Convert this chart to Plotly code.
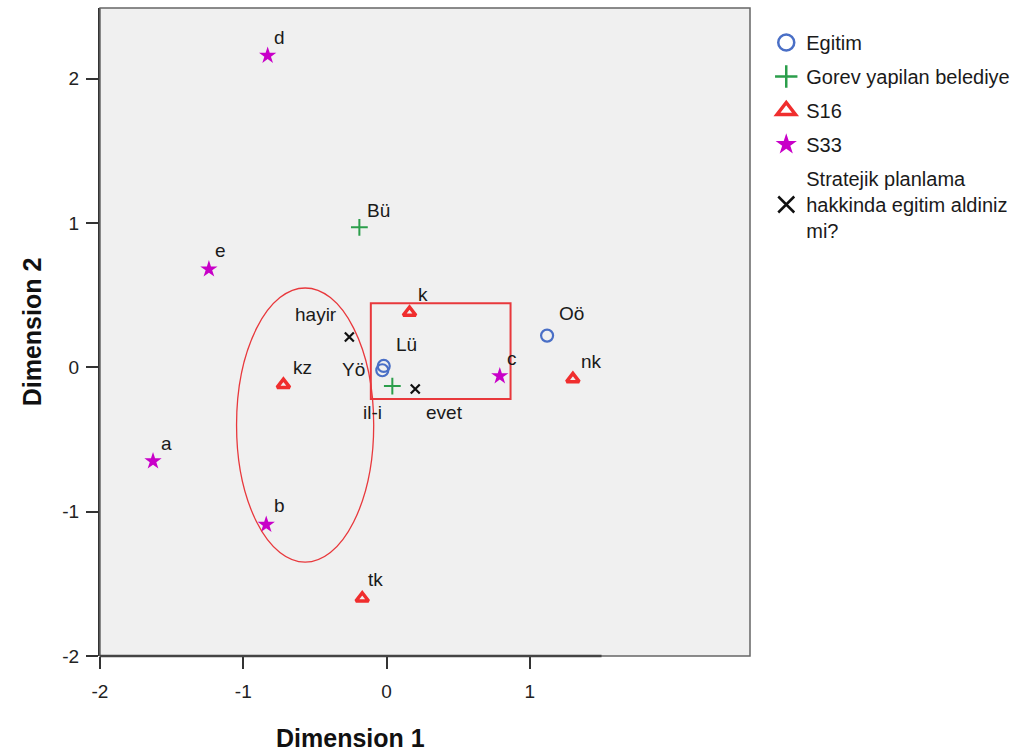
import plotly.graph_objects as go

# Category coordinates per variable (Dimension 1, Dimension 2)
egitim_labels = ["Oö", "Lü", "Yö"]
egitim_x = [1.12, -0.02, -0.03]
egitim_y = [0.22, 0.01, -0.02]

gorev_labels = ["Bü", "il-i"]
gorev_x = [-0.19, 0.04]
gorev_y = [0.97, -0.13]

s16_labels = ["k", "kz", "nk", "tk"]
s16_x = [0.16, -0.72, 1.30, -0.17]
s16_y = [0.38, -0.12, -0.08, -1.60]

s33_labels = ["d", "e", "a", "b", "c"]
s33_x = [-0.83, -1.24, -1.63, -0.84, 0.79]
s33_y = [2.16, 0.68, -0.65, -1.09, -0.06]

strat_labels = ["hayir", "evet"]
strat_x = [-0.26, 0.20]
strat_y = [0.21, -0.15]

x_ticks = [-2, -1, 0, 1]
y_ticks = [-2, -1, 0, 1, 2]

# label offsets in pixels (dx right, dy up) relative to the point
label_shift = {
    "Oö": (24, 22), "Lü": (23, 21), "Yö": (-29, 1),
    "Bü": (19, 17), "il-i": (-20, -26),
    "k": (13, 18), "kz": (19, 17), "nk": (19, 17), "tk": (13, 19),
    "d": (12, 18), "e": (12, 19), "a": (13, 18), "b": (13, 19), "c": (12, 18),
    "hayir": (-33, 23), "evet": (29, -23),
}

series = [
    dict(name="Egitim", x=egitim_x, y=egitim_y, labels=egitim_labels,
         symbol="circle-open", color="#4A6FC6", size=12, lw=2.2, lw_leg=2.5),
    dict(name="Gorev yapilan belediye", x=gorev_x, y=gorev_y, labels=gorev_labels,
         symbol="cross-thin-open", color="#2B9E4B", size=12, lw=2, lw_leg=2.5),
    dict(name="S16", x=s16_x, y=s16_y, labels=s16_labels,
         symbol="triangle-up-open", color="#F02E2E", size=11, lw=3.5, lw_leg=3.5),
    dict(name="S33", x=s33_x, y=s33_y, labels=s33_labels,
         symbol="star", color="#C800C8", size=13, lw=0, lw_leg=0),
    dict(name="Stratejik planlama<br>hakkinda egitim aldiniz<br>mi?", x=strat_x, y=strat_y,
         labels=strat_labels, symbol="x-thin-open", color="#111111", size=9, lw=2.2, lw_leg=2.5),
]

fig = go.Figure()
annotations = []
for i, s in enumerate(series):
    fig.add_trace(go.Scatter(
        x=s["x"], y=s["y"], mode="markers", showlegend=False,
        marker=dict(symbol=s["symbol"], size=s["size"], color=s["color"],
                    line=dict(color=s["color"], width=s["lw"]))))
    # legend glyph
    fig.add_trace(go.Scatter(
        x=[None], y=[None], mode="markers", name=s["name"], legendgroup=f"g{i}",
        marker=dict(symbol=s["symbol"], size=16, color=s["color"],
                    line=dict(color=s["color"], width=s["lw_leg"]))))
    for lx, ly, lab in zip(s["x"], s["y"], s["labels"]):
        dx, dy = label_shift[lab]
        annotations.append(dict(x=lx, y=ly, text=lab, showarrow=False,
                                xshift=dx, yshift=dy,
                                font=dict(size=19, color="#1a1a1a")))

# x title centred under the drawn axis line (-2 .. 1.5)
annotations.append(dict(x=-0.25, y=0, yref="paper", yanchor="top", yshift=-66,
                        text="<b>Dimension 1</b>", showarrow=False,
                        font=dict(size=25, color="#111111")))

shapes = [
    # highlighted regions
    dict(type="circle", xref="x", yref="y", x0=-1.047, x1=-0.09, y0=-1.35, y1=0.55,
         line=dict(color="#E8383C", width=1.3)),
    dict(type="rect", xref="x", yref="y", x0=-0.11, x1=0.865, y0=-0.22, y1=0.445,
         line=dict(color="#E8383C", width=2)),
    # plot frame
    dict(type="rect", xref="paper", yref="paper", x0=0, x1=1, y0=0, y1=1,
         line=dict(color="#666666", width=1.5)),
    # x axis line over the data range
    dict(type="line", xref="x", yref="paper", x0=-2, x1=1.5, y0=0, y1=0,
         line=dict(color="#444444", width=2.5)),
]

fig.update_layout(
    width=1030, height=754,
    margin=dict(l=100, r=280, t=8, b=98),
    paper_bgcolor="white", plot_bgcolor="#F0F0F0",
    font=dict(family="Liberation Sans, Arial, sans-serif", color="#222222"),
    showlegend=True,
    legend=dict(x=1.025, y=1 - 15 / 648, xanchor="left", yanchor="top",
                xref="paper", yref="paper",
                font=dict(size=20, color="#1a1a1a"),
                bgcolor="rgba(0,0,0,0)", tracegroupgap=5,
                itemsizing="trace", valign="middle"),
    annotations=annotations, shapes=shapes,
    xaxis=dict(range=[-2, 2.536], tickvals=x_ticks, ticktext=[str(v) for v in x_ticks],
               showgrid=False, zeroline=False, showline=False,
               ticks="outside", ticklen=12, tickwidth=2, tickcolor="#333333",
               ticklabelstandoff=6,
               tickfont=dict(size=19, color="#222222")),
    yaxis=dict(range=[-2, 2.49], tickvals=y_ticks, ticktext=[str(v) for v in y_ticks],
               showgrid=False, zeroline=False, showline=True, linecolor="#333333",
               linewidth=2, mirror=False,
               ticks="outside", ticklen=12, tickwidth=2, tickcolor="#333333",
               ticklabelstandoff=3,
               tickfont=dict(size=19, color="#222222"),
               title=dict(text="<b>Dimension 2</b>", font=dict(size=25, color="#111111"),
                          standoff=14)),
)

fig.write_html("out.html")
